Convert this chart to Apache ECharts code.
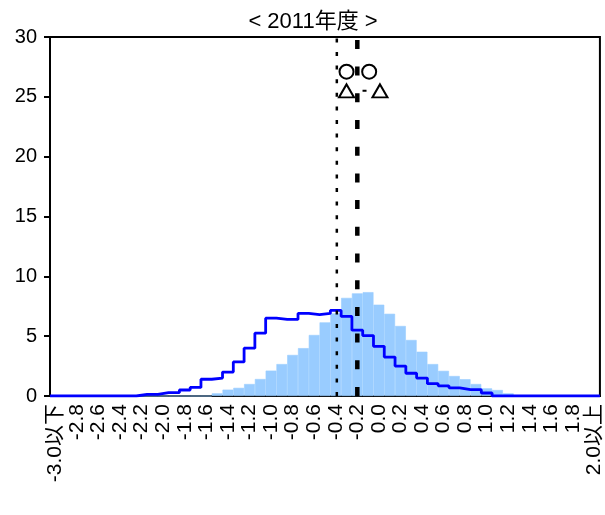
<!DOCTYPE html>
<html><head><meta charset="utf-8">
<script src="https://cdn.jsdelivr.net/npm/echarts@6/dist/echarts.min.js"></script>
<style>html,body{margin:0;padding:0;background:#fff}#c{width:605px;height:515px}</style>
</head><body><div id="c"></div>
<script>
// Category labels (bins from -3.0以下 to 2.0以上, step 0.1)
const categories = ['-3.0以下','-2.9','-2.8','-2.7','-2.6','-2.5','-2.4','-2.3','-2.2','-2.1',
  '-2.0','-1.9','-1.8','-1.7','-1.6','-1.5','-1.4','-1.3','-1.2','-1.1',
  '-1.0','-0.9','-0.8','-0.7','-0.6','-0.5','-0.4','-0.3','-0.2','-0.1',
  '0.0','0.1','0.2','0.3','0.4','0.5','0.6','0.7','0.8','0.9',
  '1.0','1.1','1.2','1.3','1.4','1.5','1.6','1.7','1.8','1.9','2.0以上'];
// 2011 distribution (light blue bars, %)
const share2011 = [0,0,0,0,0,0,0,0,0,0,
  0,0,0,0,0,0.22,0.53,0.68,1.0,1.42,
  2.12,2.67,3.43,4.0,5.1,6.15,6.9,8.2,8.58,8.68,
  7.63,6.87,5.85,4.68,3.7,2.67,2.1,1.67,1.4,1.0,
  0.64,0.5,0.22,0,0,0,0,0,0,0,0];
// comparison distribution (blue step line, %)
const sharePrev = [0,0,0,0,0,0,0,0,0.14,0.14,
  0.28,0.28,0.5,0.72,1.4,1.5,2.0,2.85,4.0,5.25,
  6.5,6.4,6.4,6.9,6.8,6.9,7.15,6.65,5.5,5.05,
  4.15,3.25,2.5,1.9,1.5,1.03,0.85,0.68,0.53,0.53,
  0.25,0,0,0,0,0,0,0,0,0,0];
// bin geometry on the continuous helper axis
const binStart = -3.0, binStep = 0.1;
// reference lines and markers (continuous x values)
const dottedLineX = [-0.39];
const dashedLineX = [-0.20];
const circleX = [-0.30, -0.09];
const circleY = [27.1, 27.1];
const triangleX = [-0.30, 0.01];
const triangleY = [25.5, 25.5];
const yTicks = [0, 30, 5];

const half = binStep / 2;
const axMin = binStart - half;
const axMax = binStart + binStep * (categories.length - 1) + half;
const stepData = [[axMin, sharePrev[0]]];
sharePrev.forEach((v, k) => stepData.push([+(axMin + binStep * (k + 1)).toFixed(3), v]));

const chart = echarts.init(document.getElementById('c'));
const font = 'Liberation Sans, Arial, Noto Sans CJK JP, sans-serif';
chart.setOption({
  animation: false,
  backgroundColor: '#fff',
  title: {
    text: '< 2011年度 >', left: 308, textAlign: 'center', top: 6,
    textStyle: {fontSize: 22, fontWeight: 'normal', color: '#000', fontFamily: font}
  },
  grid: {left: 50, right: 2, top: 37, bottom: 119, show: true, borderColor: '#000', borderWidth: 2},
  xAxis: [{
    type: 'category', data: categories, boundaryGap: true,
    axisLine: {onZero: false, lineStyle: {color: '#000', width: 2}},
    axisTick: {inside: true, length: 7, interval: 0, lineStyle: {color: '#000', width: 2.5}},
    axisLabel: {interval: 1, rotate: 90, fontSize: 21, color: '#000', margin: 8, fontFamily: font},
    splitLine: {show: false}
  }, {
    type: 'value', min: axMin, max: axMax, show: false, splitLine: {show: false}
  }],
  yAxis: {
    type: 'value', min: yTicks[0], max: yTicks[1], interval: yTicks[2],
    axisLine: {show: true, onZero: false, lineStyle: {color: '#000', width: 2}},
    axisTick: {show: true, length: 6, lineStyle: {color: '#000', width: 2}},
    axisLabel: {fontSize: 20, color: '#000', margin: 13, fontFamily: font},
    splitLine: {show: false}
  },
  series: [
    {type: 'bar', xAxisIndex: 0, data: share2011, barCategoryGap: '0%',
     itemStyle: {color: '#99CCFF', borderColor: '#99CCFF', borderWidth: 0.6}, z: 1},
    {type: 'line', xAxisIndex: 1, data: stepData, step: 'start', symbol: 'none',
     lineStyle: {color: '#0000FF', width: 2.8}, z: 3},
    {type: 'line', xAxisIndex: 1, data: [[dottedLineX[0], yTicks[0]], [dottedLineX[0], yTicks[1]]],
     symbol: 'none', lineStyle: {color: '#000', width: 2.5, type: [4, 9.6], cap: 'butt'}, z: 4},
    {type: 'line', xAxisIndex: 1, data: [[dashedLineX[0], yTicks[0]], [dashedLineX[0], yTicks[1]]],
     symbol: 'none', lineStyle: {color: '#000', width: 4.5, type: [9, 17.7], cap: 'butt'}, z: 4},
    {type: 'line', xAxisIndex: 1, data: triangleX.map((x, i) => [x, triangleY[i]]),
     symbol: 'none', lineStyle: {color: '#000', width: 2, type: [4, 12]}, z: 5},
    {type: 'scatter', xAxisIndex: 1, data: circleX.map((x, i) => [x, circleY[i]]),
     symbol: 'circle', symbolSize: 14,
     itemStyle: {color: '#fff', borderColor: '#000', borderWidth: 2, opacity: 1}, z: 6},
    {type: 'scatter', xAxisIndex: 1, data: triangleX.map((x, i) => [x, triangleY[i]]),
     symbol: 'triangle', symbolSize: [15, 13],
     itemStyle: {color: '#fff', borderColor: '#000', borderWidth: 2, opacity: 1}, z: 6}
  ]
});
</script>
</body></html>
